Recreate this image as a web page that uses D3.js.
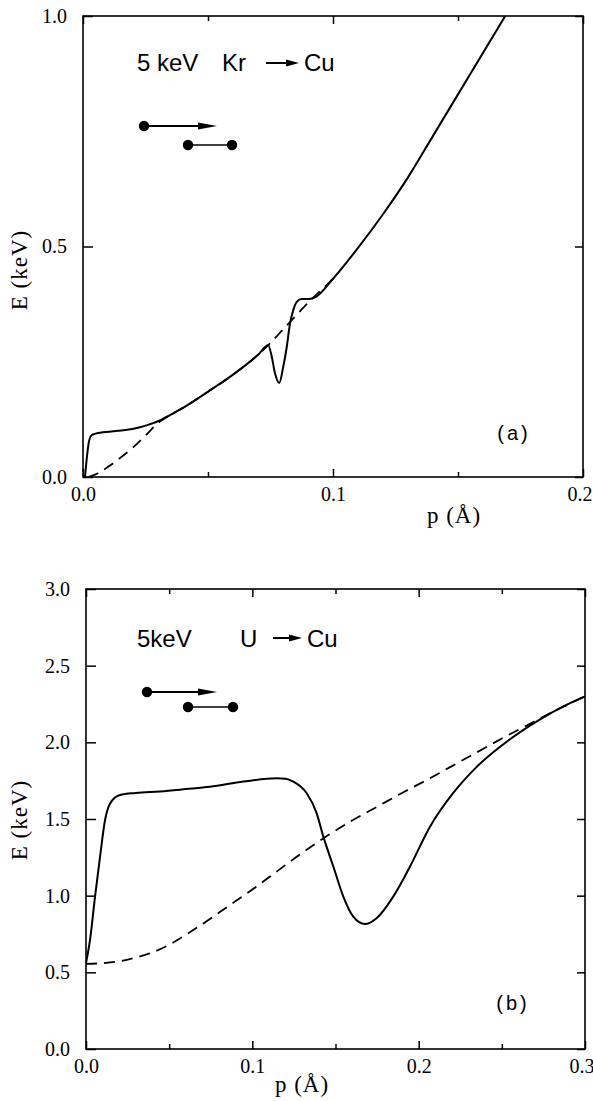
<!DOCTYPE html>
<html><head><meta charset="utf-8">
<script src="https://cdn.jsdelivr.net/npm/d3@7/dist/d3.min.js"></script>
<style>body{margin:0;background:#fff} svg{display:block}</style>
</head><body>
<script>
// ---------- data ----------
// (a) 5 keV Kr -> Cu
const topSolidP = [0.0008, 0.0015, 0.0025, 0.0035, 0.005, 0.008, 0.012, 0.017, 0.022, 0.026, 0.03, 0.035, 0.04, 0.05, 0.06, 0.07, 0.0741, 0.0755, 0.0768, 0.0785, 0.0801, 0.0815, 0.0828, 0.0841, 0.0855, 0.0875, 0.0905, 0.093, 0.1, 0.11, 0.12, 0.13, 0.14, 0.15, 0.16, 0.17];
const topSolidE = [0, 0.04, 0.08, 0.091, 0.094, 0.097, 0.099, 0.102, 0.107, 0.113, 0.121, 0.135, 0.15, 0.185, 0.222, 0.265, 0.286, 0.261, 0.225, 0.204, 0.239, 0.282, 0.333, 0.362, 0.380, 0.386, 0.386, 0.39, 0.43, 0.497, 0.57, 0.65, 0.74, 0.83, 0.92, 1.01];
const topDashP = [0.002, 0.006, 0.01, 0.015, 0.02, 0.025, 0.03, 0.035, 0.04, 0.05, 0.06, 0.07, 0.075, 0.08, 0.085, 0.09, 0.095, 0.1];
const topDashE = [0, 0.008, 0.022, 0.042, 0.064, 0.09, 0.117, 0.135, 0.15, 0.185, 0.222, 0.265, 0.291, 0.32, 0.349, 0.378, 0.404, 0.43];
// (b) 5 keV U -> Cu
const botSolidP = [0, 0.0024, 0.0054, 0.0084, 0.0114, 0.0144, 0.0204, 0.03, 0.0445, 0.06, 0.0745, 0.0946, 0.1146, 0.12, 0.1246, 0.1327, 0.1387, 0.1427, 0.1487, 0.1547, 0.1607, 0.1677, 0.1747, 0.1847, 0.1948, 0.2068, 0.2208, 0.2349, 0.2549, 0.273, 0.287, 0.3];
const botSolidE = [0.56, 0.71, 0.99, 1.25, 1.49, 1.60, 1.657, 1.67, 1.68, 1.695, 1.71, 1.744, 1.766, 1.763, 1.744, 1.668, 1.537, 1.385, 1.19, 0.994, 0.863, 0.815, 0.853, 0.994, 1.19, 1.45, 1.67, 1.84, 2.02, 2.15, 2.235, 2.30];
const botDashP = [0, 0.01, 0.02, 0.03, 0.04, 0.05, 0.06, 0.07, 0.08, 0.09, 0.1, 0.115, 0.13, 0.145, 0.16, 0.175, 0.19, 0.205, 0.22, 0.235, 0.25, 0.265, 0.28, 0.3];
const botDashE = [0.555, 0.56, 0.572, 0.597, 0.63, 0.68, 0.745, 0.815, 0.89, 0.965, 1.04, 1.16, 1.28, 1.39, 1.49, 1.58, 1.67, 1.755, 1.845, 1.935, 2.025, 2.11, 2.195, 2.3];
// ticks
const topXTicks = [0, 0.1, 0.2];
const topXMinor = [0.05, 0.15];
const topYTicks = [0, 0.5, 1.0];
const botXTicks = [0, 0.1, 0.2, 0.3];
const botXMinor = [0.05, 0.15, 0.25];
const botYTicks = [0, 0.5, 1.0, 1.5, 2.0, 2.5, 3.0];
const xTitle = "p (Å)";
const yTitle = "E (keV)";

const W = 593, H = 1101;
const svg = d3.select("body").append("svg").attr("width", W).attr("height", H);
const SERIF = "'Liberation Serif', 'Times New Roman', serif";
const SANS = "'Liberation Sans', Arial, sans-serif";
const fmt = d3.format(".1f");

function zip(a, b) { return a.map((v, i) => [v, b[i]]); }

function panel(cfg) {
  const x = d3.scaleLinear().domain(cfg.xDom).range([cfg.x0, cfg.x1]);
  const y = d3.scaleLinear().domain(cfg.yDom).range([cfg.y1, cfg.y0]);
  const g = svg.append("g");
  const clipId = "clip" + cfg.id;
  g.append("clipPath").attr("id", clipId).append("rect")
    .attr("x", cfg.x0).attr("y", cfg.y0).attr("width", cfg.x1 - cfg.x0).attr("height", cfg.y1 - cfg.y0);

  function style(sel, labels) {
    sel.select(".domain").remove();
    sel.selectAll(".tick line").attr("stroke", "#000").attr("stroke-width", 1.5);
    sel.selectAll("text").attr("font-family", SERIF).attr("font-size", 20).attr("fill", "#000");
    if (!labels) sel.selectAll("text").remove();
  }
  // bottom
  g.append("g").attr("transform", `translate(0,${cfg.y1})`)
    .call(d3.axisBottom(x).tickValues(cfg.xTicks).tickSize(-8).tickPadding(10).tickFormat(fmt))
    .call(s => style(s, true))
    .call(s => s.selectAll(".tick").filter((d, i, n) => i === n.length - 1)
      .select("text").attr("text-anchor", "end").attr("x", 9));
  g.append("g").attr("transform", `translate(0,${cfg.y1})`)
    .call(d3.axisBottom(x).tickValues(cfg.xMinor).tickSize(-5))
    .call(s => style(s, false));
  // top
  g.append("g").attr("transform", `translate(0,${cfg.y0})`)
    .call(d3.axisTop(x).tickValues(cfg.xTicks).tickSize(-8))
    .call(s => style(s, false));
  g.append("g").attr("transform", `translate(0,${cfg.y0})`)
    .call(d3.axisTop(x).tickValues(cfg.xMinor).tickSize(-5))
    .call(s => style(s, false));
  // left
  g.append("g").attr("transform", `translate(${cfg.x0},0)`)
    .call(d3.axisLeft(y).tickValues(cfg.yTicks).tickSize(-10).tickPadding(16).tickFormat(fmt))
    .call(s => style(s, true));
  // right
  g.append("g").attr("transform", `translate(${cfg.x1},0)`)
    .call(d3.axisRight(y).tickValues(cfg.yTicks).tickSize(-8))
    .call(s => style(s, false));
  // frame
  g.append("rect").attr("x", cfg.x0).attr("y", cfg.y0)
    .attr("width", cfg.x1 - cfg.x0).attr("height", cfg.y1 - cfg.y0)
    .attr("fill", "none").attr("stroke", "#000").attr("stroke-width", 1.6);

  const line = d3.line().x(d => x(d[0])).y(d => y(d[1])).curve(d3.curveMonotoneX);
  const cg = g.append("g").attr("clip-path", `url(#${clipId})`);
  cg.append("path").datum(zip(cfg.dashP, cfg.dashE)).attr("d", line)
    .attr("fill", "none").attr("stroke", "#000").attr("stroke-width", 1.8).attr("stroke-dasharray", "11,7");
  cg.append("path").datum(zip(cfg.solidP, cfg.solidE)).attr("d", line)
    .attr("fill", "none").attr("stroke", "#000").attr("stroke-width", 2);

  // axis titles
  g.append("text").attr("x", cfg.xtX).attr("y", cfg.xtY).attr("text-anchor", "middle")
    .attr("font-family", SERIF).attr("font-size", 23).attr("letter-spacing", 1).text(xTitle);
  g.append("text").attr("transform", `translate(${cfg.ytX},${cfg.ytY}) rotate(-90)`)
    .attr("text-anchor", "middle").attr("dominant-baseline", "middle")
    .attr("font-family", SERIF).attr("font-size", 23).attr("letter-spacing", 1).text(yTitle);

  // reaction label
  const t = cfg.title;
  g.append("text").attr("x", t.x1).attr("y", t.base).attr("font-family", SANS).attr("font-size", 24).text(t.s1);
  g.append("text").attr("x", t.x2).attr("y", t.base).attr("font-family", SANS).attr("font-size", 24).text(t.s2);
  g.append("text").attr("x", t.x3).attr("y", t.base).attr("font-family", SANS).attr("font-size", 24).text("Cu");
  g.append("line").attr("x1", t.a0).attr("x2", t.a1 - 10).attr("y1", t.ay).attr("y2", t.ay)
    .attr("stroke", "#000").attr("stroke-width", 2);
  g.append("path").attr("d", `M${t.a1 - 13},${t.ay - 3.5} L${t.a1},${t.ay} L${t.a1 - 13},${t.ay + 3.5} Z`).attr("fill", "#000");

  // collision sketch
  const s = cfg.sketch;
  g.append("line").attr("x1", s.cx).attr("x2", s.ax - 14).attr("y1", s.cy).attr("y2", s.cy)
    .attr("stroke", "#000").attr("stroke-width", 1.8);
  g.append("path").attr("d", `M${s.ax - 19},${s.cy - 3.5} L${s.ax},${s.cy} L${s.ax - 19},${s.cy + 3.5} Z`).attr("fill", "#000");
  g.append("circle").attr("cx", s.cx).attr("cy", s.cy).attr("r", 5.2).attr("fill", "#000");
  g.append("line").attr("x1", s.d1).attr("x2", s.d2).attr("y1", s.dy).attr("y2", s.dy)
    .attr("stroke", "#000").attr("stroke-width", 1.6);
  g.append("circle").attr("cx", s.d1).attr("cy", s.dy).attr("r", 5.2).attr("fill", "#000");
  g.append("circle").attr("cx", s.d2).attr("cy", s.dy).attr("r", 5.2).attr("fill", "#000");

  g.append("text").attr("x", cfg.tag.x).attr("y", cfg.tag.y).attr("text-anchor", "middle")
    .attr("font-family", SANS).attr("font-size", 20).attr("letter-spacing", 3).text(cfg.tag.s);
}

panel({
  id: "a", x0: 83, x1: 583, y0: 16, y1: 477, xDom: [0, 0.2], yDom: [0, 1],
  xTicks: topXTicks, xMinor: topXMinor, yTicks: topYTicks,
  solidP: topSolidP, solidE: topSolidE, dashP: topDashP, dashE: topDashE,
  xtX: 454, xtY: 523, ytX: 22, ytY: 270,
  title: { s1: "5 keV", s2: "Kr", x1: 137, x2: 222, x3: 304, base: 71, a0: 266, a1: 299, ay: 63 },
  sketch: { cx: 144, cy: 126, ax: 217, d1: 188, d2: 232, dy: 145 },
  tag: { s: "(a)", x: 514, y: 440 }
});

panel({
  id: "b", x0: 86, x1: 585, y0: 589, y1: 1049, xDom: [0, 0.3], yDom: [0, 3],
  xTicks: botXTicks, xMinor: botXMinor, yTicks: botYTicks,
  solidP: botSolidP, solidE: botSolidE, dashP: botDashP, dashE: botDashE,
  xtX: 302, xtY: 1092, ytX: 22, ytY: 820,
  title: { s1: "5keV", s2: "U", x1: 137, x2: 240, x3: 307, base: 647, a0: 273, a1: 302, ay: 638 },
  sketch: { cx: 147, cy: 692, ax: 217, d1: 188, d2: 233, dy: 707 },
  tag: { s: "(b)", x: 513, y: 1010 }
});
</script>
</body></html>
